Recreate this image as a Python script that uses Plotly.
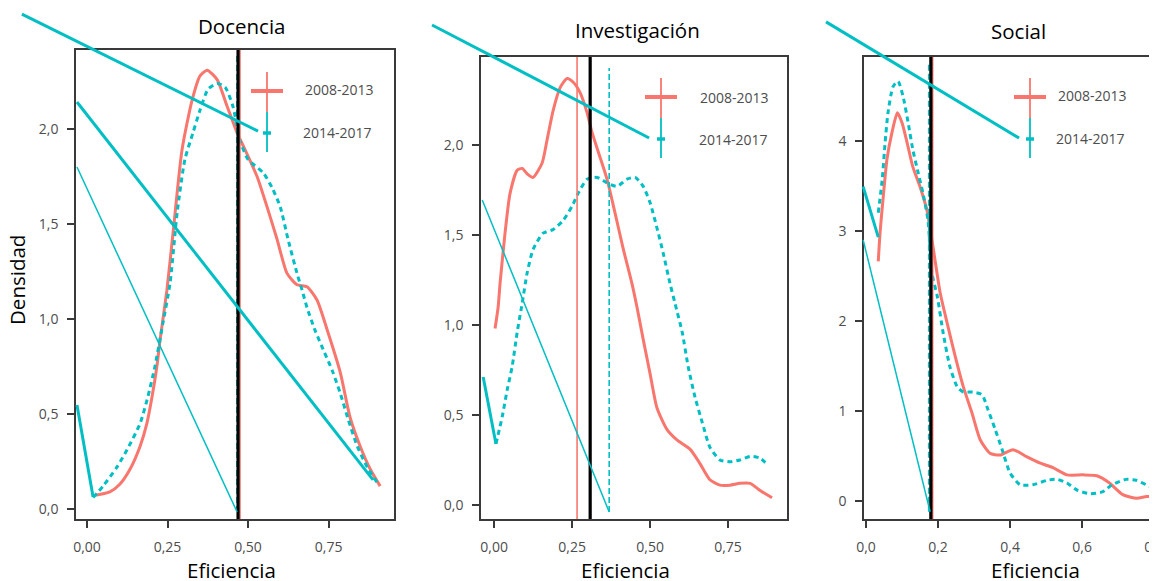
import plotly.graph_objects as go

W, H = 1157, 581          # browser window (reference picture size)
OFF = 8                   # default page body margin that offsets the plot div
WF, HF = 1175, 573        # figure size (panel 3 runs past the window edge, as in the reference)
RED, TEAL = "#F8766D", "#00BFC4"
AXC = "#3a3a3a"
TICKC = "#4d4d4d"
FONT = "Open Sans"

# ---------------- data ----------------
series_names = ["2008-2013", "2014-2017"]
panel_titles = ["Docencia", "Investigación", "Social"]

# Docencia
doc_x_0813 = [0.019, 0.071, 0.102, 0.134, 0.165, 0.186, 0.202, 0.217, 0.227, 0.248, 0.267, 0.295, 0.326, 0.351,
              0.373, 0.404, 0.435, 0.466, 0.491, 0.528, 0.559, 0.590, 0.621, 0.652, 0.683, 0.714, 0.748, 0.786,
              0.817, 0.848, 0.879, 0.910]
doc_y_0813 = [0.07, 0.09, 0.13, 0.21, 0.33, 0.45, 0.59, 0.75, 0.89, 1.15, 1.45, 1.89, 2.15, 2.28,
              2.31, 2.26, 2.12, 1.98, 1.89, 1.75, 1.59, 1.42, 1.24, 1.18, 1.17, 1.10, 0.93, 0.72,
              0.48, 0.33, 0.21, 0.12]
doc_x_1417 = [0.019, 0.050, 0.093, 0.124, 0.165, 0.189, 0.211, 0.236, 0.258, 0.280, 0.304, 0.329, 0.351, 0.376,
              0.404, 0.429, 0.453, 0.475, 0.500, 0.547, 0.575, 0.600, 0.624, 0.652, 0.668, 0.683, 0.708, 0.733,
              0.761, 0.786, 0.811, 0.839, 0.870, 0.904]
doc_y_1417 = [0.06, 0.12, 0.22, 0.31, 0.45, 0.59, 0.75, 0.98, 1.19, 1.56, 1.84, 1.98, 2.10, 2.21,
              2.24, 2.22, 2.12, 1.94, 1.84, 1.77, 1.69, 1.59, 1.42, 1.24, 1.15, 1.06, 0.94, 0.84,
              0.73, 0.61, 0.47, 0.33, 0.22, 0.13]

# Investigación
inv_x_0813 = [0.003, 0.013, 0.019, 0.035, 0.051, 0.074, 0.090, 0.106, 0.125, 0.154, 0.170, 0.189, 0.212, 0.234,
              0.253, 0.276, 0.298, 0.314, 0.340, 0.362, 0.388, 0.413, 0.442, 0.458, 0.478, 0.500, 0.522, 0.554,
              0.587, 0.628, 0.660, 0.692, 0.724, 0.756, 0.788, 0.821, 0.853, 0.891]
inv_y_0813 = [0.98, 1.10, 1.23, 1.51, 1.73, 1.86, 1.87, 1.84, 1.82, 1.90, 2.03, 2.19, 2.32, 2.37,
              2.35, 2.29, 2.18, 2.07, 1.93, 1.81, 1.62, 1.43, 1.23, 1.10, 0.92, 0.73, 0.54, 0.42,
              0.36, 0.31, 0.23, 0.14, 0.11, 0.11, 0.12, 0.12, 0.08, 0.04]
inv_x_1417 = [0.006, 0.026, 0.042, 0.058, 0.074, 0.090, 0.106, 0.125, 0.157, 0.189, 0.221, 0.250, 0.269, 0.298,
              0.330, 0.362, 0.394, 0.426, 0.452, 0.478, 0.500, 0.522, 0.542, 0.564, 0.580, 0.603, 0.622, 0.644,
              0.667, 0.692, 0.724, 0.756, 0.788, 0.821, 0.853, 0.878]
inv_y_1417 = [0.34, 0.49, 0.64, 0.77, 0.96, 1.12, 1.29, 1.42, 1.51, 1.53, 1.58, 1.66, 1.73, 1.81,
              1.82, 1.79, 1.77, 1.81, 1.82, 1.77, 1.68, 1.54, 1.40, 1.23, 1.12, 0.96, 0.77, 0.60,
              0.46, 0.32, 0.25, 0.24, 0.25, 0.27, 0.26, 0.22]

# Social
soc_x_0813 = [0.034, 0.039, 0.047, 0.058, 0.072, 0.087, 0.100, 0.114, 0.130, 0.150, 0.169, 0.183, 0.206, 0.225,
              0.248, 0.270, 0.294, 0.317, 0.344, 0.372, 0.408, 0.447, 0.484, 0.519, 0.558, 0.602, 0.641, 0.676,
              0.713, 0.752, 0.779, 0.815]
soc_y_0813 = [2.66, 2.98, 3.34, 3.79, 4.09, 4.31, 4.20, 3.98, 3.71, 3.49, 3.23, 2.90, 2.31, 1.98,
              1.60, 1.27, 0.98, 0.68, 0.53, 0.51, 0.57, 0.49, 0.42, 0.37, 0.29, 0.29, 0.28, 0.20,
              0.07, 0.03, 0.05, 0.05]
soc_x_1417 = [0.034, 0.045, 0.053, 0.061, 0.075, 0.089, 0.103, 0.117, 0.130, 0.145, 0.158, 0.172, 0.183, 0.198,
              0.214, 0.233, 0.253, 0.270, 0.297, 0.322, 0.339, 0.359, 0.378, 0.400, 0.428, 0.463, 0.503, 0.531,
              0.558, 0.586, 0.622, 0.656, 0.683, 0.722, 0.750, 0.778, 0.801, 0.820]
soc_y_1417 = [3.20, 3.57, 3.98, 4.31, 4.60, 4.66, 4.49, 4.20, 3.90, 3.64, 3.42, 3.12, 2.53, 2.27,
              1.87, 1.49, 1.27, 1.21, 1.21, 1.18, 1.01, 0.79, 0.57, 0.31, 0.18, 0.18, 0.23, 0.24,
              0.20, 0.12, 0.08, 0.10, 0.18, 0.24, 0.23, 0.18, 0.14, 0.12]

# Reference vertical lines: overall mean (black), 2008-2013 mean, 2014-2017 mean
mean_all = [0.469, 0.308, 0.180]
mean_0813 = [0.475, 0.266, 0.185]
mean_1417 = [0.465, 0.369, 0.174]

# Stray straight teal segments present in the source graphic (x0, y0, x1, y1, width)
stray_doc = [(-0.202, 2.605, 0.531, 1.989, 3), (-0.031, 2.142, 0.888, 0.153, 3),
             (-0.031, 1.80, 0.466, -0.016, 1.5), (-0.031, 0.547, 0.019, 0.063, 3)]
stray_inv = [(-0.199, 2.667, 0.497, 2.039, 3), (-0.038, 1.694, 0.369, -0.039, 1.5),
             (-0.035, 0.711, 0.006, 0.339, 3)]
stray_soc = [(-0.111, 5.32, 0.425, 4.03, 3), (-0.008, 3.49, 0.034, 2.93, 3),
             (-0.008, 2.90, 0.178, -0.12, 1.5)]

# ---------------- layout geometry (page pixels) ----------------
boxes = [(76, 394, 50, 519), (481, 787, 57, 519), (864, 1170, 57, 519)]
xranges = [(-0.034, 0.953), (-0.042, 0.939), (-0.0056, 0.844)]
yranges = [(-0.053, 2.416), (-0.078, 2.489), (-0.2, 4.93)]
xticks = [[0, 0.25, 0.5, 0.75], [0, 0.25, 0.5, 0.75], [0, 0.2, 0.4, 0.6, 0.8]]
xfmt = [".2f", ".2f", ".1f"]
yticks = [[0, 0.5, 1, 1.5, 2], [0, 0.5, 1, 1.5, 2], [0, 1, 2, 3, 4]]
yfmt = [".1f", ".1f", "d"]
teal_vline_top = [2.39, 2.428, 4.85]
teal_vline_bot = [-0.016, -0.039, -0.12]

curves = [
    (doc_x_0813, doc_y_0813, doc_x_1417, doc_y_1417, stray_doc),
    (inv_x_0813, inv_y_0813, inv_x_1417, inv_y_1417, stray_inv),
    (soc_x_0813, soc_y_0813, soc_x_1417, soc_y_1417, stray_soc),
]

def px(x):
    return (x - OFF) / WF

def py(y):
    return 1 - (y - OFF) / HF

fig = go.Figure()
layout = {}
for i in range(3):
    l, r, t, b = boxes[i]
    xd = [px(l), px(r)]
    yd = [py(b), py(t)]
    n = "" if i == 0 else str(i + 1)
    on = str(i + 4)
    xr, yr = xranges[i], yranges[i]
    common = dict(showline=True, linecolor=AXC, linewidth=1.5, ticks="outside", ticklen=7,
                  tickwidth=1.5, tickcolor=AXC, showgrid=False, zeroline=False, fixedrange=True,
                  automargin=False, tickfont=dict(family=FONT, size=14, color=TICKC))
    layout["xaxis" + n] = dict(common, domain=xd, range=list(xr), tickvals=xticks[i], tickformat=xfmt[i],
                               anchor="y" + n, mirror=True, ticklabelstandoff=7)
    layout["yaxis" + n] = dict(common, domain=yd, range=list(yr), tickvals=yticks[i], tickformat=yfmt[i],
                               anchor="x" + n, mirror=True, ticklabelstandoff=6)
    # full-page overlay axes sharing the panel's scale (for strokes that run outside the box)
    sx = (xr[1] - xr[0]) / (xd[1] - xd[0])
    sy = (yr[1] - yr[0]) / (yd[1] - yd[0])
    layout["xaxis" + on] = dict(domain=[0, 1], range=[xr[0] - xd[0] * sx, xr[1] + (1 - xd[1]) * sx],
                                visible=False, fixedrange=True, anchor="y" + on)
    layout["yaxis" + on] = dict(domain=[0, 1], range=[yr[0] - yd[0] * sy, yr[1] + (1 - yd[1]) * sy],
                                visible=False, fixedrange=True, anchor="x" + on)

    xa, ya = "x" + n, "y" + n
    ax, ay = curves[i][0], curves[i][1]
    bx, by = curves[i][2], curves[i][3]
    fig.add_trace(go.Scatter(x=ax, y=ay, mode="lines", line=dict(color=RED, width=3, shape="spline", smoothing=0.6),
                             xaxis=xa, yaxis=ya, showlegend=False, name=series_names[0]))
    fig.add_trace(go.Scatter(x=bx, y=by, mode="lines",
                             line=dict(color=TEAL, width=3, dash="5px,4px", shape="spline", smoothing=0.6),
                             xaxis=xa, yaxis=ya, showlegend=False, name=series_names[1]))
    # vertical reference lines
    fig.add_trace(go.Scatter(x=[mean_1417[i]] * 2, y=[teal_vline_bot[i], teal_vline_top[i]], mode="lines",
                             line=dict(color=TEAL, width=1.6, dash="6px,3px"), xaxis=xa, yaxis=ya, showlegend=False))
    fig.add_trace(go.Scatter(x=[mean_0813[i]] * 2, y=list(yr), mode="lines",
                             line=dict(color=RED, width=1.6), xaxis=xa, yaxis=ya, showlegend=False))
    fig.add_trace(go.Scatter(x=[mean_all[i]] * 2, y=list(yr), mode="lines",
                             line=dict(color="black", width=3.2), xaxis=xa, yaxis=ya, showlegend=False))
    # stray segments
    for (x0, y0, x1, y1, w) in curves[i][4]:
        fig.add_trace(go.Scatter(x=[x0, x1], y=[y0, y1], mode="lines", line=dict(color=TEAL, width=w),
                                 xaxis="x" + on, yaxis="y" + on, showlegend=False, hoverinfo="skip"))

# page-pixel overlay axes for text placement (data-referenced annotations do not push margins)
layout["xaxis7"] = dict(domain=[0, 1], range=[OFF, OFF + WF], visible=False, fixedrange=True, anchor="y7")
layout["yaxis7"] = dict(domain=[0, 1], range=[OFF + HF, OFF], visible=False, fixedrange=True, anchor="x7")
fig.add_trace(go.Scatter(x=[OFF + 1], y=[OFF + 1], mode="markers", marker=dict(opacity=0), xaxis="x7", yaxis="y7",
                         showlegend=False, hoverinfo="skip"))

# ---------------- legends (drawn per panel) ----------------
legend_pos = [(267, 91, 303, 89, 301, 132), (661, 97, 698, 97, 697, 139), (1030, 97, 1056, 95, 1054, 138)]
shapes = []
annotations = []

def ann(text, x, y, size, color, xanchor="center", angle=0):
    return dict(text=text, x=x, y=y, xref="x7", yref="y7", showarrow=False, xanchor=xanchor, yanchor="middle",
                textangle=angle, font=dict(family=FONT, size=size, color=color))

for (cx, cy, t1x, t1y, t2x, t2y) in legend_pos:
    shapes.append(dict(type="line", xref="paper", yref="paper", x0=px(cx - 16), x1=px(cx + 16), y0=py(cy), y1=py(cy),
                       line=dict(color=RED, width=4)))
    shapes.append(dict(type="line", xref="paper", yref="paper", x0=px(cx), x1=px(cx), y0=py(cy - 19), y1=py(cy + 21),
                       line=dict(color=RED, width=1.8)))
    shapes.append(dict(type="line", xref="paper", yref="paper", x0=px(cx), x1=px(cx), y0=py(cy + 21), y1=py(cy + 61),
                       line=dict(color=TEAL, width=1.8)))
    shapes.append(dict(type="line", xref="paper", yref="paper", x0=px(cx - 4), x1=px(cx + 4), y0=py(cy + 42),
                       y1=py(cy + 42), line=dict(color=TEAL, width=3.5)))
    annotations.append(ann(series_names[0], t1x, t1y, 14, TICKC, "left"))
    annotations.append(ann(series_names[1], t2x, t2y, 14, TICKC, "left"))

title_pos = [(242, 26), (637, 30), (1018, 31)]
for (tx, ty), txt in zip(title_pos, panel_titles):
    annotations.append(ann(txt, tx, ty, 20.5, "black"))
for tx in [231, 625, 1035]:
    annotations.append(ann("Eficiencia", tx, 570, 20.5, "black"))
annotations.append(ann("Densidad", 17, 280, 20.5, "black", angle=-90))

fig.update_layout(**layout)
fig.update_layout(width=WF, height=HF, margin=dict(l=0, r=0, t=0, b=0, autoexpand=False), paper_bgcolor="white",
                  plot_bgcolor="rgba(0,0,0,0)", separators=",.", shapes=shapes, annotations=annotations,
                  showlegend=False, font=dict(family=FONT))
fig.write_html("out.html")
